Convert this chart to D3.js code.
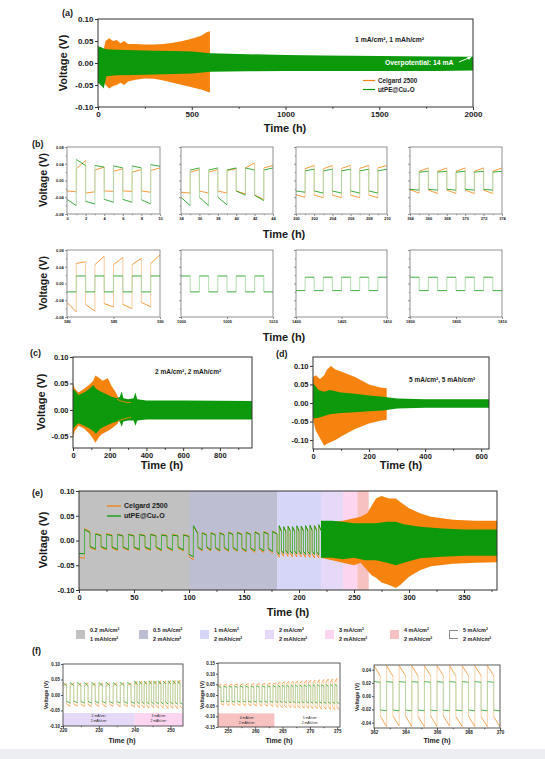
<!DOCTYPE html>
<html><head><meta charset="utf-8">
<script src="https://cdn.jsdelivr.net/npm/d3@7"></script>
<style>body{margin:0;background:#fff}svg{display:block}</style>
</head><body><svg id="c" width="545" height="759"></svg>
<script>
// ================= DATA =================
const seriesNames = ["Celgard 2500", "utPE@Cu\u2082O"];
// (a) 1 mA/cm2, 1 mAh/cm2 : envelopes of the dense voltage profile
const aOrangeTime  = [0, 30, 40, 60, 80, 100, 120, 140, 160, 200, 250, 300, 350, 400, 450, 500, 550, 580, 597];
const aOrangeUpper = [0.028, 0.03, 0.05, 0.056, 0.05, 0.052, 0.045, 0.05, 0.043, 0.043, 0.042, 0.042, 0.043, 0.046, 0.05, 0.055, 0.062, 0.07, 0.072];
const aOrangeLower = [-0.028, -0.035, -0.05, -0.058, -0.052, -0.05, -0.045, -0.05, -0.042, -0.038, -0.035, -0.036, -0.04, -0.045, -0.05, -0.055, -0.06, -0.065, -0.067];
const aGreenTime  = [0, 20, 30, 45, 100, 200, 300, 400, 500, 600, 800, 1000, 1200, 1500, 1800, 2000];
const aGreenUpper = [0.038, 0.035, 0.033, 0.031, 0.030, 0.029, 0.028, 0.027, 0.026, 0.022, 0.020, 0.018, 0.017, 0.016, 0.015, 0.014];
const aGreenLower = [-0.045, -0.052, -0.058, -0.03, -0.028, -0.027, -0.026, -0.025, -0.024, -0.02, -0.019, -0.018, -0.018, -0.018, -0.018, -0.017];

// (b) zoomed windows, each half-cycle = 1 h, values [start, end] of each half-cycle
const bStart = [0, 34, 200, 364, 580, 1000, 1400, 1800];
const bTicks = [[0,2,4,6,8,10],[34,36,38,40,42,44],[200,202,204,206,208,210],[364,366,368,370,372,374],
                [580,585,590],[1000,1005,1010],[1400,1405,1410],[1800,1805,1810]];
const bGreen = [
 [[-0.045,-0.06],[0.05,0.036],[-0.05,-0.056],[0.036,0.032],[-0.045,-0.052],[0.035,0.03],[-0.045,-0.052],[0.035,0.03],[-0.046,-0.056],[0.038,0.034]],
 [[-0.04,-0.06],[0.025,0.03],[-0.04,-0.06],[0.025,0.03],[-0.04,-0.058],[0.025,0.03],[-0.025,-0.035],[0.03,0.025],[-0.035,-0.048],[0.025,0.03]],
 [[-0.025,-0.028],[0.023,0.027],[-0.025,-0.03],[0.023,0.027],[-0.025,-0.03],[0.023,0.027],[-0.025,-0.03],[0.023,0.027],[-0.025,-0.03],[0.023,0.027]],
 [[-0.021,-0.023],[0.02,0.022],[-0.021,-0.023],[0.02,0.022],[-0.021,-0.023],[0.02,0.022],[-0.021,-0.023],[0.02,0.022],[-0.021,-0.023],[0.02,0.022]],
 [[-0.02,-0.02],[0.018,0.018],[-0.02,-0.02],[0.018,0.018],[-0.02,-0.02],[0.018,0.018],[-0.02,-0.02],[0.018,0.018],[-0.02,-0.02],[0.018,0.018]],
 [[0.018,0.018],[-0.02,-0.02],[0.018,0.018],[-0.02,-0.02],[0.018,0.018],[-0.02,-0.02],[0.018,0.018],[-0.02,-0.02],[0.018,0.018],[-0.02,-0.02]],
 [[-0.017,-0.017],[0.015,0.015],[-0.017,-0.017],[0.015,0.015],[-0.017,-0.017],[0.015,0.015],[-0.017,-0.017],[0.015,0.015],[-0.017,-0.017],[0.015,0.015]],
 [[0.015,0.015],[-0.017,-0.017],[0.015,0.015],[-0.017,-0.017],[0.015,0.015],[-0.017,-0.017],[0.015,0.015],[-0.017,-0.017],[0.015,0.015],[-0.017,-0.017]]
];
const bOrange = [
 [[-0.025,-0.027],[0.028,0.048],[-0.03,-0.027],[0.025,0.032],[-0.025,-0.026],[0.022,0.028],[-0.025,-0.026],[0.02,0.026],[-0.025,-0.028],[0.024,0.03]],
 [[-0.028,-0.03],[0.02,0.026],[-0.025,-0.03],[0.02,0.026],[-0.025,-0.03],[0.024,0.028],[-0.025,-0.032],[0.03,0.042],[-0.035,-0.045],[0.03,0.036]],
 [[-0.034,-0.04],[0.028,0.036],[-0.035,-0.041],[0.028,0.036],[-0.035,-0.041],[0.029,0.036],[-0.035,-0.041],[0.029,0.036],[-0.035,-0.041],[0.03,0.036]],
 [[-0.022,-0.03],[0.022,0.03],[-0.023,-0.031],[0.022,0.03],[-0.023,-0.031],[0.022,0.03],[-0.023,-0.031],[0.022,0.03],[-0.023,-0.031],[0.022,0.03]],
 [[-0.045,-0.068],[0.048,0.052],[-0.05,-0.066],[0.045,0.065],[-0.048,-0.056],[0.045,0.062],[-0.05,-0.06],[0.045,0.06],[-0.045,-0.056],[0.048,0.068]],
 null, null, null
];

// (c) 2 mA/cm2, 2 mAh/cm2
const cOrangeTime  = [0, 10, 30, 60, 90, 110, 122, 145, 160, 190, 210, 230, 245];
const cOrangeUpper = [0.05, 0.04, 0.033, 0.04, 0.048, 0.055, 0.065, 0.06, 0.055, 0.06, 0.045, 0.035, 0.025];
const cOrangeLower = [-0.052, -0.04, -0.03, -0.035, -0.045, -0.055, -0.062, -0.05, -0.045, -0.04, -0.035, -0.03, -0.025];
const cOrangeTraceTime  = [239, 260, 280, 300, 316];
const cOrangeTraceUpper = [0.02, 0.017, 0.015, 0.014, 0.014];
const cOrangeTraceLower = [-0.022, -0.019, -0.017, -0.015, -0.014];
const cGreenTime  = [0, 15, 30, 60, 90, 110, 125, 150, 180, 210, 240, 255, 265, 275, 300, 330, 340, 350, 400, 600, 975];
const cGreenUpper = [0.04, 0.035, 0.028, 0.033, 0.04, 0.047, 0.04, 0.035, 0.03, 0.025, 0.022, 0.025, 0.035, 0.022, 0.02, 0.022, 0.033, 0.02, 0.018, 0.018, 0.017];
const cGreenLower = [-0.035, -0.03, -0.025, -0.03, -0.035, -0.04, -0.045, -0.035, -0.03, -0.025, -0.022, -0.022, -0.032, -0.022, -0.02, -0.02, -0.03, -0.02, -0.018, -0.018, -0.018];

// (d) 5 mA/cm2, 5 mAh/cm2
const dOrangeTime  = [0, 10, 25, 40, 50, 64, 80, 100, 150, 200, 240, 263];
const dOrangeUpper = [0.07, 0.075, 0.065, 0.075, 0.09, 0.1, 0.09, 0.085, 0.07, 0.05, 0.042, 0.04];
const dOrangeLower = [-0.045, -0.075, -0.095, -0.115, -0.11, -0.105, -0.1, -0.09, -0.07, -0.055, -0.048, -0.045];
const dGreenTime  = [0, 20, 40, 60, 100, 150, 200, 250, 300, 400, 628];
const dGreenUpper = [0.053, 0.035, 0.03, 0.035, 0.028, 0.025, 0.02, 0.017, 0.012, 0.01, 0.01];
const dGreenLower = [-0.042, -0.04, -0.035, -0.03, -0.027, -0.025, -0.022, -0.02, -0.015, -0.013, -0.013];

// (e) rate test: background bands (current steps)
const eBandStart = [0, 100, 180, 220, 240, 253, 263.5];
const eBandEnd   = [100, 180, 220, 240, 253, 263.5, 380];
const legCurrent  = ["0.2", "0.5", "1", "2", "3", "4", "5"];
const legCapacity = ["1", "2", "2", "2", "2", "2", "2"];
// half-cycle durations (h) of each square-wave step
const eStepStart = [0, 100, 180];
const eStepHalf  = [5, 4, 2];
const eGreen = [
 [[-0.026,-0.027],[0.022,0.016],[-0.012,-0.017],[0.013,0.010],[-0.012,-0.017],[0.012,0.010],[-0.013,-0.018],[0.012,0.009],[-0.013,-0.018],[0.012,0.009],[-0.013,-0.018],[0.012,0.009],[-0.013,-0.018],[0.012,0.009],[-0.013,-0.019],[0.011,0.009],[-0.013,-0.019],[0.011,0.009],[-0.013,-0.019],[0.011,0.008]],
 [[-0.028,-0.033],[0.030,0.014],[-0.013,-0.019],[0.015,0.011],[-0.013,-0.019],[0.015,0.011],[-0.014,-0.020],[0.015,0.011],[-0.014,-0.020],[0.016,0.012],[-0.014,-0.020],[0.016,0.012],[-0.015,-0.021],[0.016,0.012],[-0.015,-0.021],[0.017,0.012],[-0.015,-0.021],[0.017,0.013],[-0.016,-0.022],[0.018,0.013]],
 [[-0.022,-0.028],[0.030,0.018],[-0.020,-0.026],[0.028,0.018],[-0.020,-0.026],[0.029,0.019],[-0.021,-0.027],[0.028,0.018],[-0.021,-0.027],[0.030,0.019],[-0.021,-0.027],[0.029,0.019],[-0.022,-0.028],[0.030,0.019],[-0.022,-0.028],[0.031,0.020],[-0.022,-0.028],[0.030,0.020],[-0.023,-0.029],[0.032,0.020]]
];
const eOrange = [
 [[-0.034,-0.036],[0.024,0.018],[-0.014,-0.019],[0.014,0.011],[-0.014,-0.019],[0.014,0.011],[-0.015,-0.020],[0.013,0.010],[-0.015,-0.020],[0.013,0.010],[-0.015,-0.020],[0.013,0.010],[-0.015,-0.020],[0.013,0.010],[-0.015,-0.021],[0.012,0.010],[-0.015,-0.021],[0.012,0.010],[-0.015,-0.021],[0.012,0.009]],
 [[-0.033,-0.039],[0.027,0.016],[-0.015,-0.021],[0.016,0.012],[-0.015,-0.021],[0.016,0.012],[-0.016,-0.022],[0.016,0.012],[-0.016,-0.022],[0.017,0.013],[-0.016,-0.022],[0.017,0.013],[-0.017,-0.023],[0.017,0.013],[-0.017,-0.024],[0.018,0.013],[-0.018,-0.024],[0.018,0.014],[-0.018,-0.025],[0.019,0.014]],
 [[-0.026,-0.034],[0.028,0.020],[-0.025,-0.032],[0.027,0.019],[-0.025,-0.032],[0.028,0.020],[-0.026,-0.033],[0.027,0.020],[-0.026,-0.033],[0.028,0.020],[-0.026,-0.033],[0.028,0.021],[-0.027,-0.034],[0.029,0.021],[-0.027,-0.034],[0.029,0.021],[-0.027,-0.035],[0.030,0.022],[-0.028,-0.035],[0.030,0.022]]
];
// dense part (220 h onward): envelopes
const eOrangeTime  = [220, 230, 240, 250, 256, 262, 266, 270, 275, 282, 288, 292, 300, 310, 320, 340, 360, 380];
const eOrangeUpper = [0.035, 0.038, 0.04, 0.045, 0.048, 0.055, 0.07, 0.085, 0.09, 0.085, 0.085, 0.078, 0.065, 0.055, 0.048, 0.042, 0.04, 0.04];
const eOrangeLower = [-0.035, -0.04, -0.045, -0.05, -0.045, -0.06, -0.07, -0.075, -0.085, -0.09, -0.096, -0.09, -0.073, -0.06, -0.052, -0.047, -0.045, -0.044];
const eGreenTime  = [220, 230, 240, 250, 260, 270, 280, 288, 295, 310, 330, 350, 380];
const eGreenUpper = [0.04, 0.04, 0.038, 0.035, 0.035, 0.035, 0.038, 0.038, 0.033, 0.028, 0.024, 0.022, 0.022];
const eGreenLower = [-0.035, -0.035, -0.038, -0.035, -0.04, -0.04, -0.045, -0.05, -0.045, -0.036, -0.033, -0.031, -0.031];

// (f) zoomed windows of the rate test
const f1StepStart = [220, 240];
const f1StepHalf  = [1, 2/3];
const f1Green = [
 [[0.040,0.030],[-0.020,-0.026],[0.040,0.031],[-0.020,-0.025],[0.041,0.031],[-0.021,-0.026],[0.040,0.030],[-0.021,-0.026],[0.041,0.031],[-0.020,-0.026],[0.040,0.031],[-0.021,-0.026],[0.041,0.031],[-0.021,-0.027],[0.040,0.031],[-0.021,-0.026],[0.041,0.032],[-0.021,-0.027],[0.041,0.032],[-0.022,-0.027]],
 [[0.045,0.034],[-0.022,-0.028],[0.044,0.035],[-0.022,-0.028],[0.045,0.035],[-0.023,-0.028],[0.046,0.035],[-0.022,-0.029],[0.045,0.036],[-0.023,-0.028],[0.046,0.035],[-0.023,-0.029],[0.045,0.036],[-0.023,-0.029],[0.046,0.036],[-0.023,-0.029],[0.047,0.036],[-0.024,-0.029],[0.046,0.037],[-0.024,-0.030]]
];
const f1Orange = [
 [[0.028,0.038],[-0.029,-0.037],[0.029,0.039],[-0.029,-0.036],[0.028,0.038],[-0.030,-0.037],[0.029,0.039],[-0.030,-0.038],[0.029,0.038],[-0.029,-0.037],[0.028,0.039],[-0.030,-0.038],[0.029,0.038],[-0.030,-0.037],[0.029,0.039],[-0.030,-0.038],[0.030,0.040],[-0.030,-0.038],[0.030,0.039],[-0.031,-0.039]],
 [[0.032,0.044],[-0.032,-0.041],[0.033,0.045],[-0.032,-0.042],[0.032,0.044],[-0.033,-0.042],[0.033,0.046],[-0.033,-0.041],[0.034,0.045],[-0.033,-0.043],[0.033,0.046],[-0.034,-0.042],[0.034,0.046],[-0.034,-0.043],[0.035,0.047],[-0.034,-0.043],[0.034,0.047],[-0.035,-0.044],[0.035,0.048],[-0.035,-0.044]]
];
const f2StepStart = [253.25, 263.75];
const f2StepHalf  = [0.5, 0.4];
const f2Green = [
 [[0.042,0.035],[-0.028,-0.032],[0.041,0.036],[-0.028,-0.032],[0.042,0.036],[-0.029,-0.033],[0.042,0.035],[-0.028,-0.033],[0.043,0.036],[-0.029,-0.033],[0.042,0.036],[-0.029,-0.034],[0.043,0.036],[-0.029,-0.033],[0.043,0.037],[-0.029,-0.034],[0.043,0.037],[-0.030,-0.034],[0.044,0.037],[-0.030,-0.034],[0.044,0.037]],
 [[-0.030,-0.035],[0.045,0.038],[-0.030,-0.035],[0.045,0.038],[-0.031,-0.036],[0.046,0.038],[-0.031,-0.036],[0.046,0.039],[-0.031,-0.036],[0.046,0.039],[-0.032,-0.037],[0.047,0.039],[-0.032,-0.037],[0.047,0.040],[-0.032,-0.037],[0.047,0.040],[-0.033,-0.038],[0.048,0.040],[-0.033,-0.038],[0.048,0.041],[-0.033,-0.038],[0.048,0.041],[-0.034,-0.039],[0.049,0.041],[-0.034,-0.039],[0.049,0.042],[-0.034,-0.039],[0.050,0.042],[-0.035,-0.040]]
];
const f2Orange = [
 [[0.044,0.050],[-0.040,-0.048],[0.045,0.051],[-0.040,-0.049],[0.045,0.051],[-0.041,-0.049],[0.046,0.052],[-0.041,-0.050],[0.046,0.053],[-0.042,-0.050],[0.047,0.053],[-0.042,-0.051],[0.047,0.054],[-0.043,-0.051],[0.048,0.055],[-0.043,-0.052],[0.048,0.055],[-0.044,-0.053],[0.049,0.056],[-0.044,-0.054],[0.050,0.057]],
 [[-0.048,-0.058],[0.052,0.062],[-0.048,-0.059],[0.053,0.063],[-0.049,-0.059],[0.053,0.064],[-0.049,-0.060],[0.054,0.065],[-0.050,-0.061],[0.055,0.066],[-0.050,-0.062],[0.055,0.067],[-0.051,-0.062],[0.056,0.068],[-0.051,-0.063],[0.057,0.069],[-0.052,-0.064],[0.057,0.070],[-0.052,-0.065],[0.058,0.072],[-0.053,-0.066],[0.059,0.073],[-0.054,-0.067],[0.060,0.075],[-0.054,-0.068],[0.060,0.076],[-0.055,-0.069],[0.061,0.078],[-0.056,-0.070]]
];
const f3StepStart = [362];
const f3StepHalf  = [0.4];
const f3Green = [[[0.022,0.021],[-0.021,-0.022],[0.022,0.021],[-0.021,-0.022],[0.022,0.021],[-0.021,-0.022],[0.022,0.021],[-0.021,-0.022],[0.022,0.021],[-0.021,-0.022],[0.022,0.021],[-0.021,-0.022],[0.022,0.021],[-0.021,-0.022],[0.022,0.021],[-0.021,-0.022],[0.022,0.021],[-0.021,-0.022],[0.022,0.021],[-0.021,-0.022]]];
const f3Orange = [[[0.046,0.030],[-0.030,-0.046],[0.046,0.030],[-0.030,-0.045],[0.046,0.031],[-0.030,-0.046],[0.046,0.030],[-0.031,-0.046],[0.046,0.031],[-0.030,-0.046],[0.046,0.031],[-0.030,-0.045],[0.046,0.030],[-0.031,-0.046],[0.046,0.031],[-0.030,-0.046],[0.046,0.031],[-0.031,-0.046],[0.046,0.031],[-0.031,-0.046]]];

// ================= STYLE / DRAW =================
const FONT = "'Liberation Sans', Arial, Helvetica, sans-serif";
const ORANGE = "#f5830d", GREEN = "#0c990c";
const ORANGE_L = "#f7c08a", GREEN_L = "#9fd59f";
const bandColors = ["#c1c1c1", "#bebed2", "#d6d6f8", "#e6d9f8", "#fcd6f0", "#f8c1c1", "#ffffff"];
const svg = d3.select("#c");
svg.append("rect").attr("width", 545).attr("height", 759).attr("fill", "#fff");
let clipN = 0;

function panel(c) {
  const x = d3.scaleLinear().domain(c.xd).range([c.x0, c.x1]);
  const y = d3.scaleLinear().domain(c.yd).range([c.y1, c.y0]);
  const id = "clip" + (clipN++);
  svg.append("clipPath").attr("id", id).append("rect")
    .attr("x", c.x0).attr("y", c.y0).attr("width", c.x1 - c.x0).attr("height", c.y1 - c.y0);
  const bg = svg.append("g").attr("clip-path", `url(#${id})`);
  const data = svg.append("g").attr("clip-path", `url(#${id})`);
  const axes = svg.append("g");
  return { x, y, bg, data, axes, c };
}
function drawAxes(p) {
  const c = p.c, g = p.axes, tl = c.tl || 3, col = c.axc || "#333";
  const yf = c.ylab === false ? (() => "") : (v => v.toFixed(2));
  const xf = c.xlab === false ? (() => "") : (v => String(v));
  g.append("g").attr("transform", `translate(${c.x0},0)`)
    .call(d3.axisLeft(p.y).tickValues(c.yt).tickSize(tl).tickPadding(c.pad || 1.5).tickFormat(yf));
  if (c.ym) g.append("g").attr("transform", `translate(${c.x0},0)`)
    .call(d3.axisLeft(p.y).tickValues(c.ym).tickSize(tl * 0.6).tickFormat(""));
  g.append("g").attr("transform", `translate(0,${c.y1})`)
    .call(d3.axisBottom(p.x).tickValues(c.xt).tickSize(tl).tickPadding(c.pad || 1.5).tickFormat(xf));
  if (c.xm) g.append("g").attr("transform", `translate(0,${c.y1})`)
    .call(d3.axisBottom(p.x).tickValues(c.xm).tickSize(tl * 0.6).tickFormat(""));
  g.selectAll(".domain").remove();
  g.selectAll("line").attr("stroke", col).attr("stroke-width", c.sw || 1);
  g.selectAll("text").attr("font-size", c.fs).attr("font-weight", "bold")
    .attr("fill", "#1a1a1a").attr("font-family", FONT);
  g.append("rect").attr("x", c.x0).attr("y", c.y0).attr("width", c.x1 - c.x0).attr("height", c.y1 - c.y0)
    .attr("fill", "none").attr("stroke", col).attr("stroke-width", c.sw || 1);
}
function band(p, t, up, lo, color) {
  const area = d3.area().x((d, i) => p.x(t[i])).y0((d, i) => p.y(lo[i])).y1((d, i) => p.y(up[i]));
  p.data.append("path").datum(t).attr("d", area).attr("fill", color);
}
function trace(p, t, v, color, w) {
  const line = d3.line().x((d, i) => p.x(t[i])).y((d, i) => p.y(v[i]));
  p.data.append("path").datum(t).attr("d", line).attr("fill", "none").attr("stroke", color).attr("stroke-width", w);
}
function buildSegs(starts, halves, vals) {
  const out = [];
  vals.forEach((arr, k) => arr.forEach((s, i) =>
    out.push({ t0: starts[k] + i * halves[k], t1: starts[k] + (i + 1) * halves[k], a: s[0], b: s[1] })));
  return out;
}
function wave(p, segs, dark, light, w) {
  const g = p.data.append("g");
  const tr = [];
  for (let i = 1; i < segs.length; i++) tr.push({ t: segs[i].t0, a: segs[i - 1].b, b: segs[i].a });
  g.selectAll(null).data(tr).join("line")
    .attr("x1", d => p.x(d.t)).attr("x2", d => p.x(d.t)).attr("y1", d => p.y(d.a)).attr("y2", d => p.y(d.b))
    .attr("stroke", light).attr("stroke-width", w);
  g.selectAll(null).data(segs).join("line")
    .attr("x1", d => p.x(d.t0)).attr("x2", d => p.x(d.t1)).attr("y1", d => p.y(d.a)).attr("y2", d => p.y(d.b))
    .attr("stroke", dark).attr("stroke-width", w);
}
function txt(x, y, s, o = {}) {
  const t = svg.append("text").attr("x", x).attr("y", y).attr("font-family", FONT)
    .attr("font-size", o.fs || 8).attr("font-weight", o.fw || "bold").attr("fill", o.fill || "#1a1a1a")
    .attr("text-anchor", o.anchor || "start").attr("dominant-baseline", "middle").text(s);
  if (o.rot) t.attr("transform", `rotate(-90,${x},${y})`);
  return t;
}
function legendLine(x, y, len, color, label, fs, w) {
  svg.append("line").attr("x1", x).attr("x2", x + len).attr("y1", y).attr("y2", y).attr("stroke", color).attr("stroke-width", w);
  txt(x + len + 3, y + 0.5, label, { fs });
}
const yt5 = [-0.1, -0.05, 0, 0.05, 0.1];

// ---------- (a) ----------
const pa = panel({ x0: 98, x1: 473, y0: 19, y1: 107, xd: [0, 2000], yd: [-0.1, 0.1],
  xt: [0, 500, 1000, 1500, 2000], xm: [250, 750, 1250, 1750], yt: yt5, fs: 8, tl: 3 });
band(pa, aOrangeTime, aOrangeUpper, aOrangeLower, ORANGE);
band(pa, aGreenTime, aGreenUpper, aGreenLower, GREEN);
drawAxes(pa);
txt(62, 14, "(a)", { fs: 9 });
txt(64, 63, "Voltage (V)", { fs: 11, anchor: "middle", rot: true });
txt(285, 129, "Time (h)", { fs: 11, anchor: "middle" });
txt(355, 40, "1 mA/cm\u00b2, 1 mAh/cm\u00b2", { fs: 6.8 });
txt(385, 63, "Overpotential: 14 mA", { fs: 6.8, fill: "#ffffff" });
svg.append("line").attr("x1", 459).attr("y1", 62).attr("x2", 471).attr("y2", 57).attr("stroke", "#fff").attr("stroke-width", 1);
svg.append("path").attr("d", "M471,57 l-4,0 l2,3 z").attr("fill", "#fff");
legendLine(363, 80.5, 12, ORANGE, seriesNames[0], 6.3, 1.2);
legendLine(363, 89.5, 12, GREEN, seriesNames[1], 6.3, 1.2);

// ---------- (b) ----------
const bX = [[67, 160], [181, 273], [296, 387], [410, 502]];
const bY = [[147, 214], [250, 317]];
bStart.forEach((t0, k) => {
  const row = k < 4 ? 0 : 1, col = k % 4;
  const ticks = bTicks[k];
  const minor = row === 0 ? d3.range(t0 + 1, t0 + 10, 2) : null;
  const p = panel({ x0: bX[col][0], x1: bX[col][1], y0: bY[row][0], y1: bY[row][1],
    xd: [t0, t0 + 10], yd: [-0.08, 0.08], xt: ticks, xm: minor,
    yt: [-0.08, -0.04, 0, 0.04, 0.08], ym: [-0.06, -0.02, 0.02, 0.06], fs: 4, tl: 2,
    ylab: col === 0, axc: "#777", sw: 0.8, pad: 1.2 });
  const half = new Array(1).fill(1);
  if (bOrange[k]) wave(p, buildSegs([t0], half, [bOrange[k]]), ORANGE, ORANGE_L, 0.8);
  wave(p, buildSegs([t0], half, [bGreen[k]]), GREEN, GREEN_L, 0.8);
  drawAxes(p);
});
txt(32, 145, "(b)", { fs: 9 });
txt(44, 180, "Voltage (V)", { fs: 10.5, anchor: "middle", rot: true });
txt(44, 283, "Voltage (V)", { fs: 10.5, anchor: "middle", rot: true });
txt(284, 235, "Time (h)", { fs: 11, anchor: "middle" });
txt(284, 338, "Time (h)", { fs: 11, anchor: "middle" });

// ---------- (c) ----------
const pc = panel({ x0: 73, x1: 252, y0: 357, y1: 448, xd: [0, 975], yd: [-0.072, 0.1],
  xt: [0, 200, 400, 600, 800], xm: [100, 300, 500, 700, 900], yt: [-0.05, 0, 0.05, 0.1], fs: 7.5, tl: 3 });
band(pc, cOrangeTime, cOrangeUpper, cOrangeLower, ORANGE);
band(pc, cGreenTime, cGreenUpper, cGreenLower, GREEN);
trace(pc, cOrangeTraceTime, cOrangeTraceUpper, ORANGE, 0.9);
trace(pc, cOrangeTraceTime, cOrangeTraceLower, ORANGE, 0.9);
drawAxes(pc);
txt(30, 354, "(c)", { fs: 9 });
txt(42, 402, "Voltage (V)", { fs: 11, anchor: "middle", rot: true });
txt(162, 466, "Time (h)", { fs: 11, anchor: "middle" });
txt(155, 372, "2 mA/cm\u00b2, 2 mAh/cm\u00b2", { fs: 6.5 });

// ---------- (d) ----------
const pd = panel({ x0: 313, x1: 489, y0: 357, y1: 449, xd: [0, 628], yd: [-0.124, 0.124],
  xt: [0, 200, 400, 600], xm: [100, 300, 500], yt: yt5, fs: 7.5, tl: 3 });
band(pd, dOrangeTime, dOrangeUpper, dOrangeLower, ORANGE);
band(pd, dGreenTime, dGreenUpper, dGreenLower, GREEN);
drawAxes(pd);
txt(276, 355, "(d)", { fs: 9 });
txt(401, 466, "Time (h)", { fs: 11, anchor: "middle" });
txt(409, 380, "5 mA/cm\u00b2, 5 mAh/cm\u00b2", { fs: 6.5 });

// ---------- (e) ----------
const pe = panel({ x0: 79, x1: 497, y0: 491, y1: 590, xd: [0, 380], yd: [-0.1, 0.1],
  xt: [0, 50, 100, 150, 200, 250, 300, 350], xm: [25, 75, 125, 175, 225, 275, 325, 375], yt: yt5, fs: 7.5, tl: 3 });
pe.bg.selectAll(null).data(eBandStart).join("rect")
  .attr("x", (d, i) => pe.x(d)).attr("width", (d, i) => pe.x(eBandEnd[i]) - pe.x(d))
  .attr("y", 491).attr("height", 99).attr("fill", (d, i) => bandColors[i]);
wave(pe, buildSegs(eStepStart, eStepHalf, eOrange), ORANGE, "#f4a55a", 1);
band(pe, eOrangeTime, eOrangeUpper, eOrangeLower, ORANGE);
wave(pe, buildSegs(eStepStart, eStepHalf, eGreen), GREEN, "#4cb34c", 1);
band(pe, eGreenTime, eGreenUpper, eGreenLower, GREEN);
drawAxes(pe);
legendLine(107, 506, 14, ORANGE, seriesNames[0], 7, 1.3);
legendLine(107, 516, 14, GREEN, seriesNames[1], 7, 1.3);
txt(32, 494, "(e)", { fs: 9 });
txt(44, 540, "Voltage (V)", { fs: 11, anchor: "middle", rot: true });
txt(288, 613, "Time (h)", { fs: 11, anchor: "middle" });

// legend row of current steps
const legX = [76, 139, 200, 265, 325, 390, 449];
legCurrent.forEach((cur, i) => {
  const x = legX[i];
  if (i < 6) svg.append("rect").attr("x", x).attr("y", 630).attr("width", 9).attr("height", 9).attr("fill", bandColors[i]);
  else svg.append("path").attr("d", `M${x + 9},630.5 H${x + 0.5} V638.5 H${x + 9}`).attr("fill", "none").attr("stroke", "#555").attr("stroke-width", 0.7);
  txt(x + 14, 630.5, `${cur} mA/cm\u00b2`, { fs: 5.5 });
  txt(x + 14, 639.5, `${legCapacity[i]} mAh/cm\u00b2`, { fs: 5.5 });
});

// ---------- (f) ----------
const fcfg = { fs: 4.5, tl: 2, sw: 0.8, axc: "#333", pad: 1 };
const pf1 = panel(Object.assign({ x0: 63, x1: 183, y0: 664, y1: 726, xd: [220, 253.5], yd: [-0.1, 0.1],
  xt: [220, 230, 240, 250], xm: [225, 235, 245], yt: yt5 }, fcfg));
pf1.bg.append("rect").attr("x", pf1.x(eBandStart[3])).attr("width", pf1.x(eBandEnd[3]) - pf1.x(eBandStart[3]))
  .attr("y", pf1.y(-0.058)).attr("height", pf1.y(-0.1) - pf1.y(-0.058)).attr("fill", bandColors[3]);
pf1.bg.append("rect").attr("x", pf1.x(eBandStart[4])).attr("width", pf1.x(253.5) - pf1.x(eBandStart[4]))
  .attr("y", pf1.y(-0.058)).attr("height", pf1.y(-0.1) - pf1.y(-0.058)).attr("fill", bandColors[4]);
wave(pf1, buildSegs(f1StepStart, f1StepHalf, f1Orange), ORANGE, ORANGE_L, 0.7);
wave(pf1, buildSegs(f1StepStart, f1StepHalf, f1Green), GREEN, GREEN_L, 0.7);
drawAxes(pf1);

const pf2 = panel(Object.assign({ x0: 218, x1: 340, y0: 663, y1: 727, xd: [253.2, 275.5], yd: [-0.15, 0.15],
  xt: [255, 260, 265, 270, 275], xm: [257.5, 262.5, 267.5, 272.5], yt: [-0.15, -0.1, -0.05, 0, 0.05, 0.1, 0.15] }, fcfg));
pf2.bg.append("rect").attr("x", pf2.x(253.2)).attr("width", pf2.x(eBandEnd[5]) - pf2.x(253.2))
  .attr("y", pf2.y(-0.086)).attr("height", pf2.y(-0.15) - pf2.y(-0.086)).attr("fill", bandColors[5]);
wave(pf2, buildSegs(f2StepStart, f2StepHalf, f2Orange), ORANGE, ORANGE_L, 0.7);
wave(pf2, buildSegs(f2StepStart, f2StepHalf, f2Green), GREEN, GREEN_L, 0.7);
drawAxes(pf2);

const pf3 = panel(Object.assign({ x0: 374, x1: 500, y0: 665, y1: 728, xd: [362, 370], yd: [-0.048, 0.047],
  xt: [362, 364, 366, 368, 370], xm: [363, 365, 367, 369], yt: [-0.04, -0.02, 0, 0.02, 0.04] }, fcfg));
wave(pf3, buildSegs(f3StepStart, f3StepHalf, f3Orange), ORANGE, ORANGE_L, 0.7);
wave(pf3, buildSegs(f3StepStart, f3StepHalf, f3Green), GREEN, GREEN_L, 0.7);
drawAxes(pf3);

// band labels inside (f)
const bl = (x, y, cur, cap) => { txt(x, y, `${cur} mA/cm\u00b2`, { fs: 3.4, fw: "normal", anchor: "middle" });
  txt(x, y + 5, `${cap} mAh/cm\u00b2`, { fs: 3.4, fw: "normal", anchor: "middle" }); };
bl(pf1.x(230), 716, legCurrent[3], legCapacity[3]);
bl(pf1.x(246.7), 716, legCurrent[4], legCapacity[4]);
bl(pf2.x(258.5), 718, legCurrent[5], legCapacity[5]);
bl(pf2.x(270), 718, legCurrent[6], legCapacity[6]);

txt(32, 652, "(f)", { fs: 9 });
[[47, 695], [203, 695], [358, 697]].forEach(([x, y]) => txt(x, y, "Voltage (V)", { fs: 5.5, anchor: "middle", rot: true }));
[[122, 741], [279, 741], [437, 741]].forEach(([x, y]) => txt(x, y, "Time (h)", { fs: 7, anchor: "middle" }));

// bottom grey strip of the page
svg.append("rect").attr("x", 0).attr("y", 749).attr("width", 545).attr("height", 10).attr("fill", "#eceef1");
</script>
</body></html>
